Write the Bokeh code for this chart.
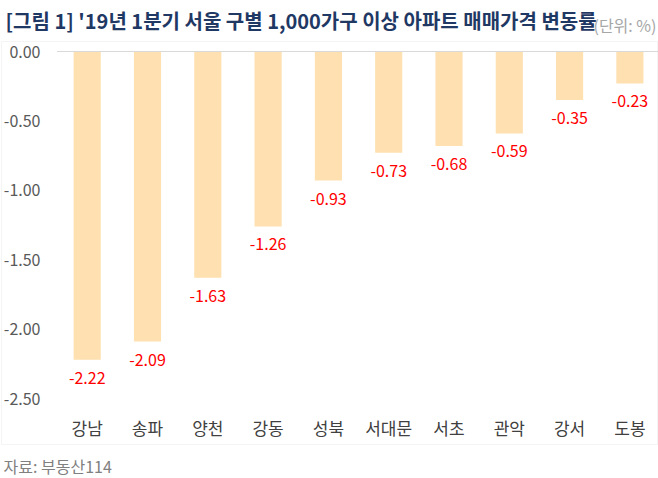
from bokeh.plotting import figure
from bokeh.models import (ColumnDataSource, Range1d, Label, BoxAnnotation, LabelSet)
from bokeh.core.properties import value
from bokeh.embed import file_html
from bokeh.resources import INLINE

districts = ["강남", "송파", "양천", "강동", "성북", "서대문", "서초", "관악", "강서", "도봉"]
changes = [-2.22, -2.09, -1.63, -1.26, -0.93, -0.73, -0.68, -0.59, -0.35, -0.23]
y_ticks = [0.0, -0.5, -1.0, -1.5, -2.0, -2.5]
title_text = "[그림 1] '19년 1분기 서울 구별 1,000가구 이상 아파트 매매가격 변동률"
unit_text = "(단위: %)"
source_text = "자료: 부동산114"

FONT = "Noto Sans CJK KR"
W, H = 658, 478

# layout geometry (canvas pixels)
CAT_W = 60.3          # pixels per category
X0 = 86.7             # centre of first category
Y_ZERO = 51.0         # pixel row of value 0
PX_PER_UNIT = 138.8   # pixels per 1.0 of value


def cy(py):  # canvas y (from top) -> screen y (from bottom)
    return H - py


n = len(districts)
xs = list(range(n))

src = ColumnDataSource(dict(x=xs, y=changes, lab=[f"{v:.2f}" for v in changes]))
xt_src = ColumnDataSource(dict(x=xs, lab=districts))
yt_src = ColumnDataSource(dict(y=y_ticks, lab=[f"{t:.2f}" for t in y_ticks]))

x_range = Range1d(-X0 / CAT_W, (W - X0) / CAT_W)
y_range = Range1d(-(H - Y_ZERO) / PX_PER_UNIT, Y_ZERO / PX_PER_UNIT)

p = figure(width=W, height=H, x_range=x_range, y_range=y_range,
           output_backend="svg", toolbar_location=None, title=None,
           min_border=0, min_border_left=0, min_border_right=0,
           min_border_top=0, min_border_bottom=0)
p.axis.visible = False
p.grid.visible = False
p.outline_line_color = None
p.background_fill_color = "white"
p.border_fill_color = "white"

# outer box
p.add_layout(BoxAnnotation(left=1, right=657, bottom=cy(444), top=cy(41),
                           left_units="screen", right_units="screen",
                           bottom_units="screen", top_units="screen",
                           fill_color=None, line_color="#D9D9D9", line_width=1,
                           level="underlay"))

# bars
p.vbar(x="x", top=0, bottom="y", width=0.45, source=src, fill_color="#FEE0B1", line_color=None)

# zero (category axis) line
p.segment(x0=[-0.5], x1=[n - 0.5], y0=[0], y1=[0], line_color="#D9D9D9", line_width=1)

# data labels
p.add_layout(LabelSet(x="x", y="y", text="lab", source=src, text_align="center",
                      text_baseline="middle", y_offset=-18, text_color="#FF0000",
                      text_font=value(FONT), text_font_size="16px"))

# y tick labels
p.add_layout(LabelSet(x=40, y="y", x_units="screen", text="lab", source=yt_src,
                      text_align="right", text_baseline="middle", text_color="#595959",
                      text_font=value(FONT), text_font_size="16px"))

# x tick labels
p.add_layout(LabelSet(x="x", y=cy(427), y_units="screen", text="lab", source=xt_src,
                      text_align="center", text_baseline="middle", text_color="#404040",
                      text_font=value(FONT), text_font_size="17px"))

# title, unit, source
p.add_layout(Label(x=5, y=cy(20), x_units="screen", y_units="screen", text=title_text,
                   text_baseline="middle", text_font=FONT, text_font_size="20px",
                   text_font_style="bold", text_color="#1F3864"))
p.add_layout(Label(x=656, y=cy(24), x_units="screen", y_units="screen", text=unit_text,
                   text_align="right", text_baseline="middle", text_font=FONT,
                   text_font_size="16px", text_color="#A6A6A6"))
p.add_layout(Label(x=3, y=cy(465), x_units="screen", y_units="screen", text=source_text,
                   text_baseline="middle", text_font=FONT, text_font_size="16px",
                   text_color="#808080"))

open("out.html", "w").write(file_html(p, INLINE))
